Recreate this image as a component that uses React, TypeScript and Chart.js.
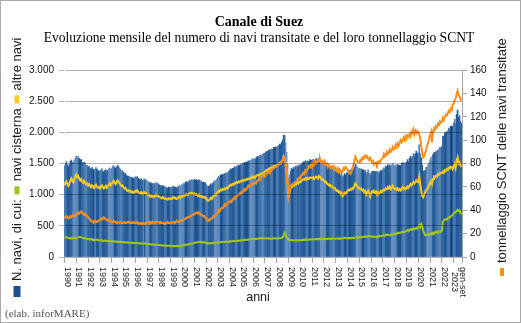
import React, { useEffect, useRef } from 'react';
import { Chart, registerables } from 'chart.js';

Chart.register(...registerables);

const titleText = 'Canale di Suez';
const subtitleText = 'Evoluzione mensile del numero di navi transitate e del loro tonnellaggio SCNT';
const footerText = '(elab. inforMARE)';
const xTitle = 'anni';
const leftTitleParts = ['N. navi, di cui:', 'navi cisterna', 'altre navi'];
const rightTitle = 'tonnellaggio SCNT delle navi transitate';

const years = [1990, 1991, 1992, 1993, 1994, 1995, 1996, 1997, 1998, 1999, 2000, 2001, 2002, 2003, 2004, 2005, 2006, 2007, 2008, 2009, 2010, 2011, 2012, 2013, 2014, 2015, 2016, 2017, 2018, 2019, 2020, 2021, 2022, 2023];
const monthNames = ['gen', 'feb', 'mar', 'apr', 'mag', 'giu', 'lug', 'ago', 'set', 'ott', 'nov', 'dic'];
const yearTickLabels = ['1990', '1991', '1992', '1993', '1994', '1995', '1996', '1997', '1998', '1999', '2000', '2001', '2002', '2003', '2004', '2005', '2006', '2007', '2008', '2009', '2010', '2011', '2012', '2013', '2014', '2015', '2016', '2017', '2018', '2019', '2020', '2021', '2022'];
const lastTickLabel = ['2023', 'gen-set'];

// navi cisterna (tankers), monthly
const tankers: number[] = [
  310, 315, 320, 310, 305, 300, 305, 295, 300, 310, 305, 300,
  300, 310, 315, 320, 325, 315, 310, 305, 300, 305, 295, 290,
  290, 285, 280, 290, 285, 275, 280, 270, 275, 280, 270, 265,
  270, 265, 270, 260, 255, 265, 260, 255, 260, 255, 250, 255,
  250, 255, 250, 245, 250, 245, 240, 245, 240, 245, 240, 235,
  240, 235, 235, 230, 235, 228, 230, 225, 230, 225, 228, 225,
  225, 228, 222, 225, 220, 215, 220, 218, 212, 218, 212, 215,
  210, 205, 210, 205, 200, 203, 200, 195, 198, 195, 193, 197,
  192, 190, 193, 186, 188, 185, 180, 184, 182, 178, 182, 180,
  178, 175, 178, 172, 175, 173, 178, 172, 176, 178, 182, 180,
  185, 190, 188, 195, 200, 198, 205, 204, 210, 212, 215, 218,
  225, 228, 232, 235, 242, 240, 236, 242, 238, 232, 236, 232,
  228, 222, 226, 222, 218, 224, 220, 226, 224, 228, 224, 230,
  232, 238, 234, 238, 244, 238, 242, 240, 248, 244, 246, 242,
  248, 254, 250, 254, 260, 258, 254, 260, 258, 264, 260, 264,
  268, 268, 274, 274, 280, 274, 278, 284, 278, 284, 290, 288,
  290, 286, 292, 290, 296, 292, 296, 302, 296, 300, 304, 300,
  298, 302, 296, 300, 298, 292, 298, 294, 298, 302, 300, 296,
  292, 298, 296, 302, 300, 308, 318, 342, 385, 352, 320, 300,
  280, 274, 276, 270, 270, 266, 270, 268, 272, 270, 268, 272,
  270, 274, 270, 278, 274, 282, 278, 274, 280, 276, 282, 280,
  280, 286, 280, 284, 290, 284, 288, 286, 292, 296, 290, 286,
  285, 290, 284, 292, 288, 296, 292, 288, 294, 292, 298, 295,
  292, 298, 296, 290, 298, 294, 302, 298, 300, 306, 300, 304,
  298, 304, 302, 308, 300, 312, 306, 302, 310, 318, 314, 308,
  316, 322, 314, 328, 322, 326, 332, 324, 330, 338, 328, 334,
  328, 324, 332, 320, 328, 326, 322, 332, 328, 338, 332, 336,
  344, 352, 342, 358, 352, 362, 356, 348, 360, 368, 358, 364,
  370, 378, 368, 384, 392, 382, 390, 402, 396, 408, 400, 412,
  420, 432, 414, 438, 448, 432, 444, 458, 442, 454, 468, 452,
  470, 510, 480, 530, 495, 420, 380, 352, 360, 348, 362, 356,
  370, 382, 364, 392, 382, 398, 392, 408, 388, 400, 412, 404,
  420, 560, 590, 600, 612, 598, 620, 638, 630, 648, 660, 678,
  700, 718, 712, 738, 758, 738, 748, 704, 690,
];

// altre navi (other ships), monthly
const others: number[] = [
  1150, 1190, 1210, 1170, 1140, 1180, 1230, 1260, 1220, 1200, 1250, 1290,
  1320, 1280, 1300, 1260, 1230, 1250, 1210, 1190, 1220, 1200, 1170, 1180,
  1150, 1170, 1140, 1120, 1150, 1130, 1110, 1140, 1160, 1130, 1110, 1120,
  1100, 1130, 1150, 1120, 1100, 1120, 1140, 1110, 1130, 1160, 1180, 1150,
  1170, 1200, 1220, 1190, 1170, 1200, 1230, 1210, 1180, 1160, 1140, 1150,
  1120, 1100, 1110, 1080, 1060, 1070, 1050, 1060, 1040, 1050, 1030, 1040,
  1060, 1050, 1070, 1040, 1030, 1020, 1040, 1010, 1020, 1040, 1020, 1030,
  1010, 990, 1000, 980, 990, 970, 980, 960, 980, 1000, 980, 990,
  970, 960, 950, 940, 960, 950, 930, 940, 930, 920, 940, 930,
  940, 930, 950, 960, 940, 950, 930, 940, 960, 970, 950, 980,
  970, 990, 980, 1000, 1010, 990, 1000, 1020, 1010, 1030, 1020, 1010,
  1020, 1000, 1010, 990, 980, 1000, 970, 980, 960, 970, 950, 960,
  940, 920, 900, 910, 930, 950, 930, 960, 980, 1000, 990, 1020,
  1040, 1060, 1050, 1080, 1070, 1090, 1080, 1100, 1090, 1110, 1100, 1130,
  1140, 1160, 1150, 1170, 1160, 1190, 1180, 1200, 1190, 1210, 1200, 1220,
  1210, 1230, 1220, 1240, 1230, 1250, 1240, 1260, 1250, 1270, 1260, 1290,
  1280, 1290, 1270, 1300, 1310, 1320, 1300, 1330, 1340, 1330, 1350, 1360,
  1370, 1390, 1380, 1400, 1420, 1410, 1430, 1440, 1430, 1460, 1450, 1470,
  1460, 1480, 1490, 1510, 1500, 1530, 1560, 1610, 1570, 1480, 1360, 1180,
  980, 1040, 1100, 1150, 1130, 1170, 1150, 1190, 1170, 1200, 1180, 1210,
  1200, 1220, 1230, 1250, 1240, 1260, 1240, 1270, 1250, 1260, 1280, 1270,
  1260, 1280, 1250, 1270, 1290, 1280, 1260, 1300, 1280, 1260, 1240, 1250,
  1220, 1200, 1210, 1180, 1170, 1150, 1160, 1130, 1140, 1120, 1100, 1110,
  1080, 1060, 1070, 1040, 1050, 1010, 1030, 980, 1000, 1030, 1010, 1040,
  1060, 1080, 1070, 1090, 1080, 1110, 1100, 1140, 1180, 1150, 1130, 1100,
  1110, 1090, 1100, 1070, 1080, 1040, 1060, 1000, 1030, 1060, 1020, 970,
  1020, 1050, 1040, 1060, 1030, 1050, 1020, 1040, 1010, 1030, 1060, 1040,
  1060, 1080, 1070, 1100, 1090, 1120, 1100, 1130, 1090, 1110, 1140, 1110,
  1090, 1100, 1080, 1100, 1070, 1090, 1070, 1100, 1120, 1090, 1110, 1090,
  1100, 1130, 1110, 1140, 1170, 1150, 1170, 1200, 1180, 1200, 1230, 1210,
  1200, 1290, 1170, 1060, 980, 960, 1000, 1040, 1080, 1090, 1120, 1150,
  1190, 1220, 1170, 1250, 1290, 1280, 1300, 1290, 1330, 1320, 1350, 1340,
  1350, 1370, 1350, 1390, 1380, 1410, 1400, 1430, 1420, 1450, 1440, 1410,
  1450, 1490, 1430, 1550, 1600, 1500, 1520, 1470, 1450,
];

// tonnellaggio SCNT (milioni), monthly
const tonnage: number[] = [
  33, 34, 35, 34, 33, 34, 35, 34, 35, 36, 35, 35,
  36, 37, 38, 37, 38, 39, 38, 37, 36, 37, 36, 35,
  34, 33, 32, 31, 31, 30, 30, 31, 30, 30, 31, 31,
  32, 33, 32, 33, 34, 33, 32, 32, 31, 31, 32, 31,
  30, 30, 31, 30, 30, 29, 30, 30, 29, 29, 30, 29,
  29, 30, 29, 29, 30, 30, 29, 29, 30, 29, 29, 30,
  29, 29, 30, 29, 28, 29, 29, 28, 29, 29, 28, 29,
  29, 30, 30, 29, 30, 29, 30, 30, 29, 30, 30, 30,
  30, 29, 30, 29, 29, 29, 28, 29, 29, 30, 29, 29,
  29, 29, 30, 30, 29, 30, 31, 30, 30, 31, 31, 31,
  31, 32, 32, 33, 33, 34, 34, 34, 35, 35, 36, 36,
  37, 37, 38, 38, 37, 38, 37, 36, 36, 35, 35, 34,
  33, 32, 32, 31, 32, 33, 33, 34, 35, 35, 36, 37,
  38, 40, 39, 41, 42, 42, 43, 45, 44, 45, 46, 47,
  47, 48, 47, 49, 50, 51, 50, 52, 53, 53, 54, 55,
  54, 56, 56, 58, 57, 58, 59, 61, 60, 61, 62, 63,
  62, 63, 64, 63, 65, 66, 67, 66, 68, 69, 69, 70,
  69, 71, 71, 72, 73, 72, 74, 75, 75, 76, 77, 77,
  78, 79, 79, 80, 81, 82, 83, 85, 84, 80, 73, 63,
  52, 56, 59, 61, 62, 63, 63, 64, 65, 66, 67, 68,
  67, 70, 70, 72, 71, 74, 73, 75, 76, 78, 77, 79,
  77, 80, 79, 82, 80, 81, 83, 82, 84, 81, 80, 82,
  80, 82, 79, 80, 77, 79, 78, 76, 77, 78, 75, 77,
  76, 74, 76, 73, 75, 74, 72, 74, 76, 75, 77, 76,
  75, 73, 72, 71, 73, 76, 79, 82, 86, 84, 82, 81,
  81, 83, 82, 85, 84, 86, 87, 85, 86, 84, 83, 85,
  83, 81, 82, 79, 80, 81, 79, 81, 82, 81, 83, 84,
  85, 88, 86, 87, 90, 88, 89, 92, 90, 91, 94, 92,
  93, 96, 94, 97, 95, 98, 100, 98, 99, 102, 100, 103,
  101, 104, 103, 105, 103, 107, 106, 109, 105, 108, 106, 108,
  107, 105, 101, 95, 89, 85, 86, 89, 92, 95, 98, 101,
  104, 107, 98, 108, 110, 109, 112, 111, 114, 113, 116, 115,
  116, 119, 117, 120, 122, 121, 123, 125, 124, 127, 126, 130,
  131, 134, 136, 139, 142, 139, 137, 135, 134,
];

const categories = years.flatMap((y) => monthNames.map((m) => `${m} ${y}`)).slice(0, tankers.length);
const totals = tankers.map((v, i) => v + others[i]);

const barPalette = ['#4a79ae', '#2f64a0', '#5d88ba', '#235b98', '#3e70a8', '#6790c0', '#1d5592', '#5480b5'];
const barShuffle = [0, 3, 1, 5, 2, 6, 4, 7, 1, 3, 0, 6];
const barColors = totals.map((_, i) => (i % 52 === 30 ? '#0c4383' : barPalette[barShuffle[Math.floor(i / 3) % barShuffle.length]]));

const SANS = '"Liberation Sans", Arial, sans-serif';
const SERIF = '"Liberation Serif", "Times New Roman", serif';

const fmtIt = (v: number) => String(v).replace(/\B(?=(\d{3})+(?!\d))/g, '.');

type Item = { kind: 'marker'; color: string; len: number; w: number } | { kind: 'text'; text: string };

function drawRotatedSequence(ctx: CanvasRenderingContext2D, cx: number, bottomY: number, items: Item[], gap: number) {
  ctx.save();
  ctx.translate(cx, bottomY);
  ctx.rotate(-Math.PI / 2);
  ctx.font = `13px ${SANS}`;
  ctx.textAlign = 'left';
  ctx.textBaseline = 'middle';
  let pos = 0;
  for (const it of items) {
    if (it.kind === 'marker') {
      ctx.fillStyle = it.color;
      ctx.fillRect(pos, -it.w / 2, it.len, it.w);
      pos += it.len + gap;
    } else {
      ctx.fillStyle = '#1a1a1a';
      ctx.fillText(it.text, pos, 0.5);
      pos += ctx.measureText(it.text).width + gap;
    }
  }
  ctx.restore();
}

const decorPlugin = {
  id: 'decor',
  beforeDraw(chart: any) {
    const ctx = chart.ctx as CanvasRenderingContext2D;
    ctx.save();
    ctx.fillStyle = '#ffffff';
    ctx.fillRect(0, 0, chart.width, chart.height);
    ctx.strokeStyle = '#a9a9a9';
    ctx.lineWidth = 1;
    ctx.strokeRect(0.5, 0.5, chart.width - 1, chart.height - 1);
    ctx.restore();
  },
  afterDraw(chart: any) {
    const ctx = chart.ctx as CanvasRenderingContext2D;
    const xs = chart.scales.x;
    const area = chart.chartArea;
    ctx.save();
    ctx.fillStyle = '#000';
    ctx.textAlign = 'center';
    ctx.textBaseline = 'alphabetic';
    ctx.font = `bold 14px ${SERIF}`;
    ctx.fillText(titleText, 259, 26);
    ctx.font = `13.6px ${SERIF}`;
    ctx.fillText(subtitleText, 259, 42);

    const step = xs.getPixelForValue(1) - xs.getPixelForValue(0);
    const tickXs: number[] = [];
    for (let k = 0; k < years.length; k++) {
      tickXs.push(xs.getPixelForValue(k * 12) - step / 2);
    }
    ctx.strokeStyle = '#a6a6a6';
    ctx.lineWidth = 1;
    ctx.beginPath();
    [...tickXs, area.right].forEach((x) => {
      const px = Math.round(x) + 0.5;
      ctx.moveTo(px, area.bottom);
      ctx.lineTo(px, area.bottom + 6);
    });
    ctx.stroke();

    ctx.fillStyle = '#1a1a1a';
    ctx.font = `9px ${SANS}`;
    yearTickLabels.forEach((lab, k) => {
      ctx.save();
      ctx.translate(tickXs[k] + 0.5, area.bottom + 10);
      ctx.rotate(Math.PI / 2);
      ctx.textAlign = 'left';
      ctx.textBaseline = 'alphabetic';
      ctx.fillText(lab, 0, 0);
      ctx.restore();
    });
    const lastX = tickXs[years.length - 1];
    lastTickLabel.forEach((lab, j) => {
      ctx.save();
      ctx.translate(lastX - 1.5 + j * 8, area.bottom + 25);
      ctx.rotate(Math.PI / 2);
      ctx.textAlign = 'center';
      ctx.textBaseline = 'alphabetic';
      ctx.fillText(lab, 0, 0);
      ctx.restore();
    });

    ctx.font = `12.5px ${SANS}`;
    ctx.textAlign = 'center';
    ctx.textBaseline = 'middle';
    ctx.fillStyle = '#1a1a1a';
    ctx.fillText(xTitle, (area.left + area.right) / 2 - 5, 298);

    ctx.font = `11px ${SERIF}`;
    ctx.textAlign = 'left';
    ctx.textBaseline = 'alphabetic';
    ctx.fillStyle = '#555';
    ctx.fillText(footerText, 5, 317);
    ctx.restore();

    drawRotatedSequence(ctx, 17, 297, [
      { kind: 'marker', color: '#1f4f8f', len: 11, w: 7 },
      { kind: 'text', text: leftTitleParts[0] },
      { kind: 'marker', color: '#9dc41a', len: 8, w: 5 },
      { kind: 'text', text: leftTitleParts[1] },
      { kind: 'marker', color: '#ffc91f', len: 8, w: 5 },
      { kind: 'text', text: leftTitleParts[2] },
    ], 5);

    drawRotatedSequence(ctx, 502, 276, [
      { kind: 'marker', color: '#ff8f1c', len: 8, w: 4 },
      { kind: 'text', text: rightTitle },
    ], 5);
  },
};

export default function App() {
  const canvasRef = useRef<HTMLCanvasElement | null>(null);

  useEffect(() => {
    const canvas = canvasRef.current;
    if (!canvas) return;
    Chart.defaults.font.family = SANS;
    const chart = new Chart(canvas, {
      type: 'bar',
      data: {
        labels: categories,
        datasets: [
          {
            type: 'line',
            label: 'tonnellaggio SCNT',
            data: tonnage,
            yAxisID: 'y1',
            borderColor: '#ff8f1c',
            borderWidth: 2,
            pointRadius: 0,
            tension: 0,
            order: 1,
          } as any,
          {
            type: 'line',
            label: 'navi cisterna',
            data: tankers,
            yAxisID: 'y',
            borderColor: '#a2c617',
            borderWidth: 2,
            pointRadius: 0,
            tension: 0,
            order: 2,
          } as any,
          {
            type: 'line',
            label: 'altre navi',
            data: others,
            yAxisID: 'y',
            borderColor: '#ffc91f',
            borderWidth: 2,
            pointRadius: 0,
            tension: 0,
            order: 3,
          } as any,
          {
            type: 'bar',
            label: 'N. navi',
            data: totals,
            yAxisID: 'y',
            backgroundColor: barColors,
            borderWidth: 0,
            barPercentage: 1,
            categoryPercentage: 1,
            order: 10,
          } as any,
        ],
      },
      options: {
        animation: false,
        responsive: false,
        devicePixelRatio: 1,
        layout: { padding: { top: 70, left: 0, right: 0, bottom: 0 } },
        plugins: {
          legend: { display: false },
          tooltip: { enabled: false },
          title: { display: false },
        },
        scales: {
          x: {
            type: 'category',
            offset: true,
            grid: { display: false },
            border: { display: false },
            ticks: { display: false },
            afterFit: (s: any) => {
              s.height = 66;
            },
          },
          y: {
            position: 'left',
            min: 0,
            max: 3000,
            ticks: {
              stepSize: 500,
              color: '#111',
              font: { size: 10, family: SANS },
              padding: 5,
              callback: (v: any) => fmtIt(Number(v)),
            },
            grid: { color: 'rgba(0,0,0,0.3)', tickLength: 5, z: 1 },
            border: { color: '#a6a6a6' },
            afterFit: (s: any) => {
              s.width = 64;
            },
          },
          y1: {
            position: 'right',
            min: 0,
            max: 160,
            ticks: {
              stepSize: 20,
              color: '#111',
              font: { size: 10, family: SANS },
              padding: 3,
            },
            grid: { drawOnChartArea: false, tickLength: 5, color: '#a6a6a6' },
            border: { color: '#a6a6a6' },
            afterFit: (s: any) => {
              s.width = 59;
            },
          },
        },
      } as any,
      plugins: [decorPlugin],
    });
    return () => chart.destroy();
  }, []);

  return (
    <div style={{ position: 'absolute', left: 0, top: 0, width: 521, height: 323 }}>
      <canvas ref={canvasRef} width={521} height={323} style={{ display: 'block', width: 521, height: 323 }} />
    </div>
  );
}
